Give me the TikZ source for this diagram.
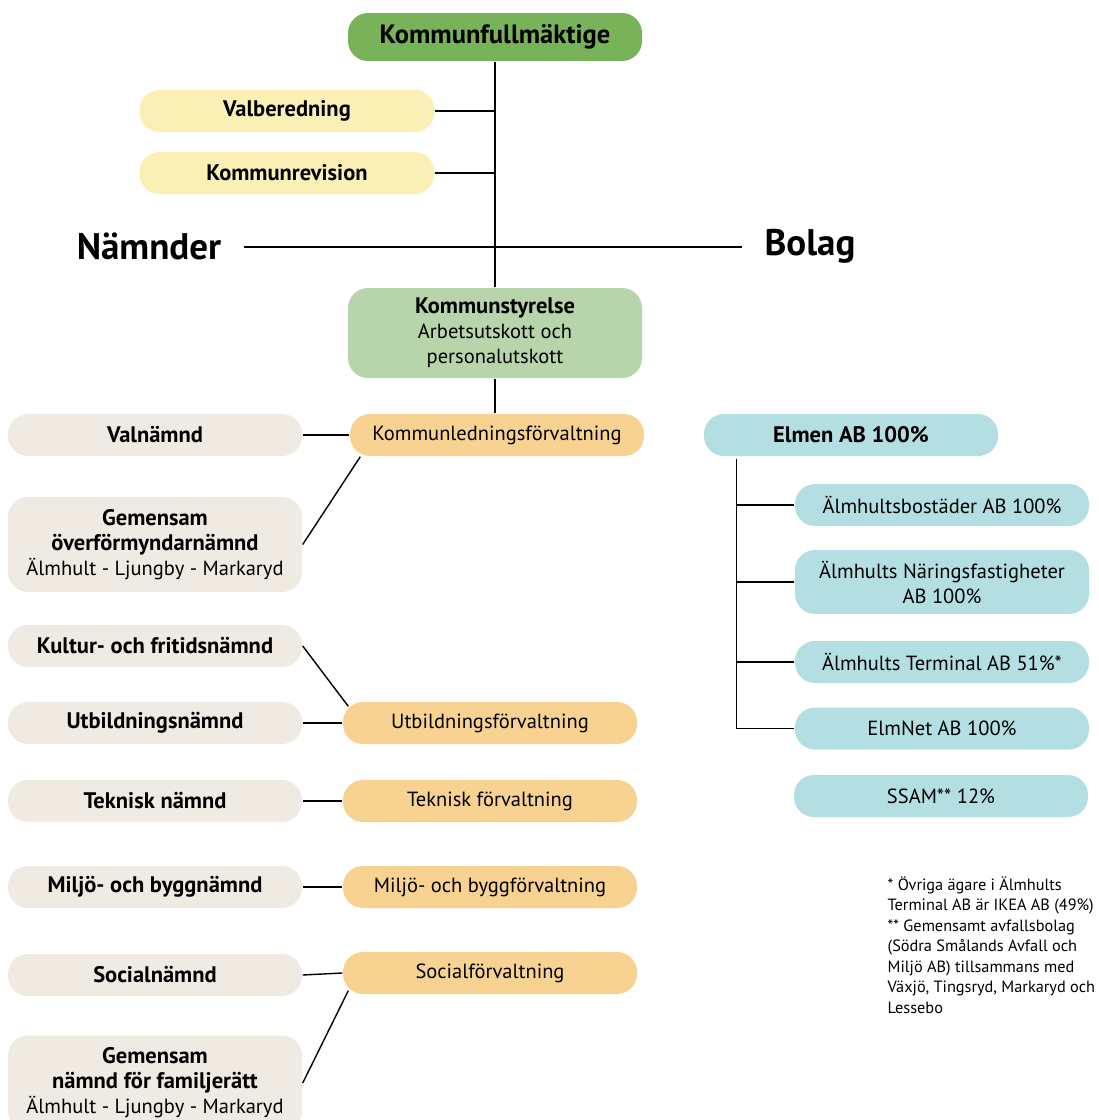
\documentclass[tikz,border=0pt]{standalone}
\usepackage{fontspec}
\setmainfont{PT Sans}
\usepackage{xcolor}
\definecolor{kfgreen}{HTML}{78B35A}
\definecolor{ksgreen}{HTML}{B7D4AB}
\definecolor{gul}{HTML}{FAF0B5}
\definecolor{beige}{HTML}{EFEAE2}
\definecolor{forv}{HTML}{F8D291}
\definecolor{bolagbla}{HTML}{B3DFE3}
\newcommand{\fet}[1]{{\fontsize{22.5}{25}\selectfont\bfseries #1}}

\begin{document}
\begin{tikzpicture}[x=1pt,y=-1pt,line width=1.4pt,
		box/.style={rounded corners=20pt,minimum width=294pt,minimum height=42pt,inner sep=0pt,align=center,font=\fontsize{20.5}{25}\selectfont},
		namnd/.style={box,fill=beige},
		forvaltning/.style={box,fill=forv},
		bolagbox/.style={box,fill=bolagbla},
		rubrik/.style={font=\fontsize{37}{37}\selectfont\bfseries,inner xsep=22pt}]
		\useasboundingbox (0,0) rectangle (1099,1120);
		% fullmaktige och styrelse
		\node[box,fill=kfgreen,minimum height=48pt,font=\fontsize{26.5}{28}\selectfont\bfseries](kf) at (495,37){Kommunfullmäktige};
		\node[box,fill=gul,minimum width=295pt](valb) at (287,111){\fet{Valberedning}};
		\node[box,fill=gul,minimum width=295pt](rev) at (287,173){\fet{Kommunrevision}};
		\node[rubrik](namnder) at (149,246){Nämnder};
		\node[rubrik](bolag) at (810,246){Bolag};
		\node[box,fill=ksgreen,minimum height=90pt](ks) at (495,333){\fet{Kommunstyrelse}\\Arbetsutskott och\\personalutskott};
		\draw(kf)--(ks);
		\draw(valb.east)--(valb.east-|kf.south);
		\draw(rev.east)--(rev.east-|kf.south);
		\draw([yshift=-1pt]namnder.east)--([yshift=-1pt]namnder.east-|bolag.west);
		% namnder och forvaltningar
		\node[forvaltning](klf) at (497,435){Kommunledningsförvaltning};
		\node[namnd](valn) at (155,435){\fet{Valnämnd}};
		\node[namnd,minimum height=95pt](overf) at (155,544.5){\fet{Gemensam}\\\fet{överförmyndarnämnd}\\Älmhult - Ljungby - Markaryd};
		\node[namnd](kultur) at (155,646){\fet{Kultur- och fritidsnämnd}};
		\node[namnd](utb) at (155,723){\fet{Utbildningsnämnd}};
		\node[forvaltning](uf) at (490,723){Utbildningsförvaltning};
		\node[namnd](tekn) at (155,801){\fet{Teknisk nämnd}};
		\node[forvaltning](tf) at (490,801){Teknisk förvaltning};
		\node[namnd](miljo) at (155,887){\fet{Miljö- och byggnämnd}};
		\node[forvaltning](mbf) at (490,887){Miljö- och byggförvaltning};
		\node[namnd](soc) at (155,975){\fet{Socialnämnd}};
		\node[forvaltning](sf) at (490,973){Socialförvaltning};
		\node[namnd,minimum height=95pt](famr) at (155,1083){\fet{Gemensam}\\\fet{nämnd för familjerätt}\\Älmhult - Ljungby - Markaryd};
		\draw(ks.south)--(ks.south|-klf.north);
		\draw(valn.east)--(klf.west);
		\draw(overf.east)--([xshift=11pt]klf.south west);
		\draw(kultur.east)--([shift={(6,5)}]uf.north west);
		\draw(utb.east)--(uf.west);
		\draw(tekn.east)--(tf.west);
		\draw(miljo.east)--(mbf.west);
		\draw(soc.east)--(sf.west);
		\draw(famr.east)--([shift={(6,-4)}]sf.south west);
		% bolag
		\node[bolagbox](elmen) at (851,435){\fet{Elmen AB 100\%}};
		\node[bolagbox](bost) at (942,505){Älmhultsbostäder AB 100\%};
		\node[bolagbox,minimum height=64pt](naring) at (942,582){Älmhults Näringsfastigheter\\AB 100\%};
		\node[bolagbox](terminal) at (942,662){Älmhults Terminal AB 51\%*};
		\node[bolagbox](elmnet) at (942,728.5){ElmNet AB 100\%};
		\node[bolagbox](ssam) at (941,796){SSAM** 12\%};
		\coordinate(stam) at ([shift={(33,2)}]elmen.south west);
		\draw(stam)|-(elmnet.west);
		\draw(bost.west)--(bost.west-|stam);
		\draw(naring.west)--(naring.west-|stam);
		\draw(terminal.west)--(terminal.west-|stam);
		\node[anchor=north west,align=left,inner sep=0pt,font=\fontsize{16.3}{20.5}\selectfont](fotnot) at (887,876){* Övriga ägare i Älmhults\\Terminal AB är IKEA AB (49\%)\\** Gemensamt avfallsbolag\\(Södra Smålands Avfall och\\Miljö AB) tillsammans med\\Växjö, Tingsryd, Markaryd och\\Lessebo};
\end{tikzpicture}
\end{document}
